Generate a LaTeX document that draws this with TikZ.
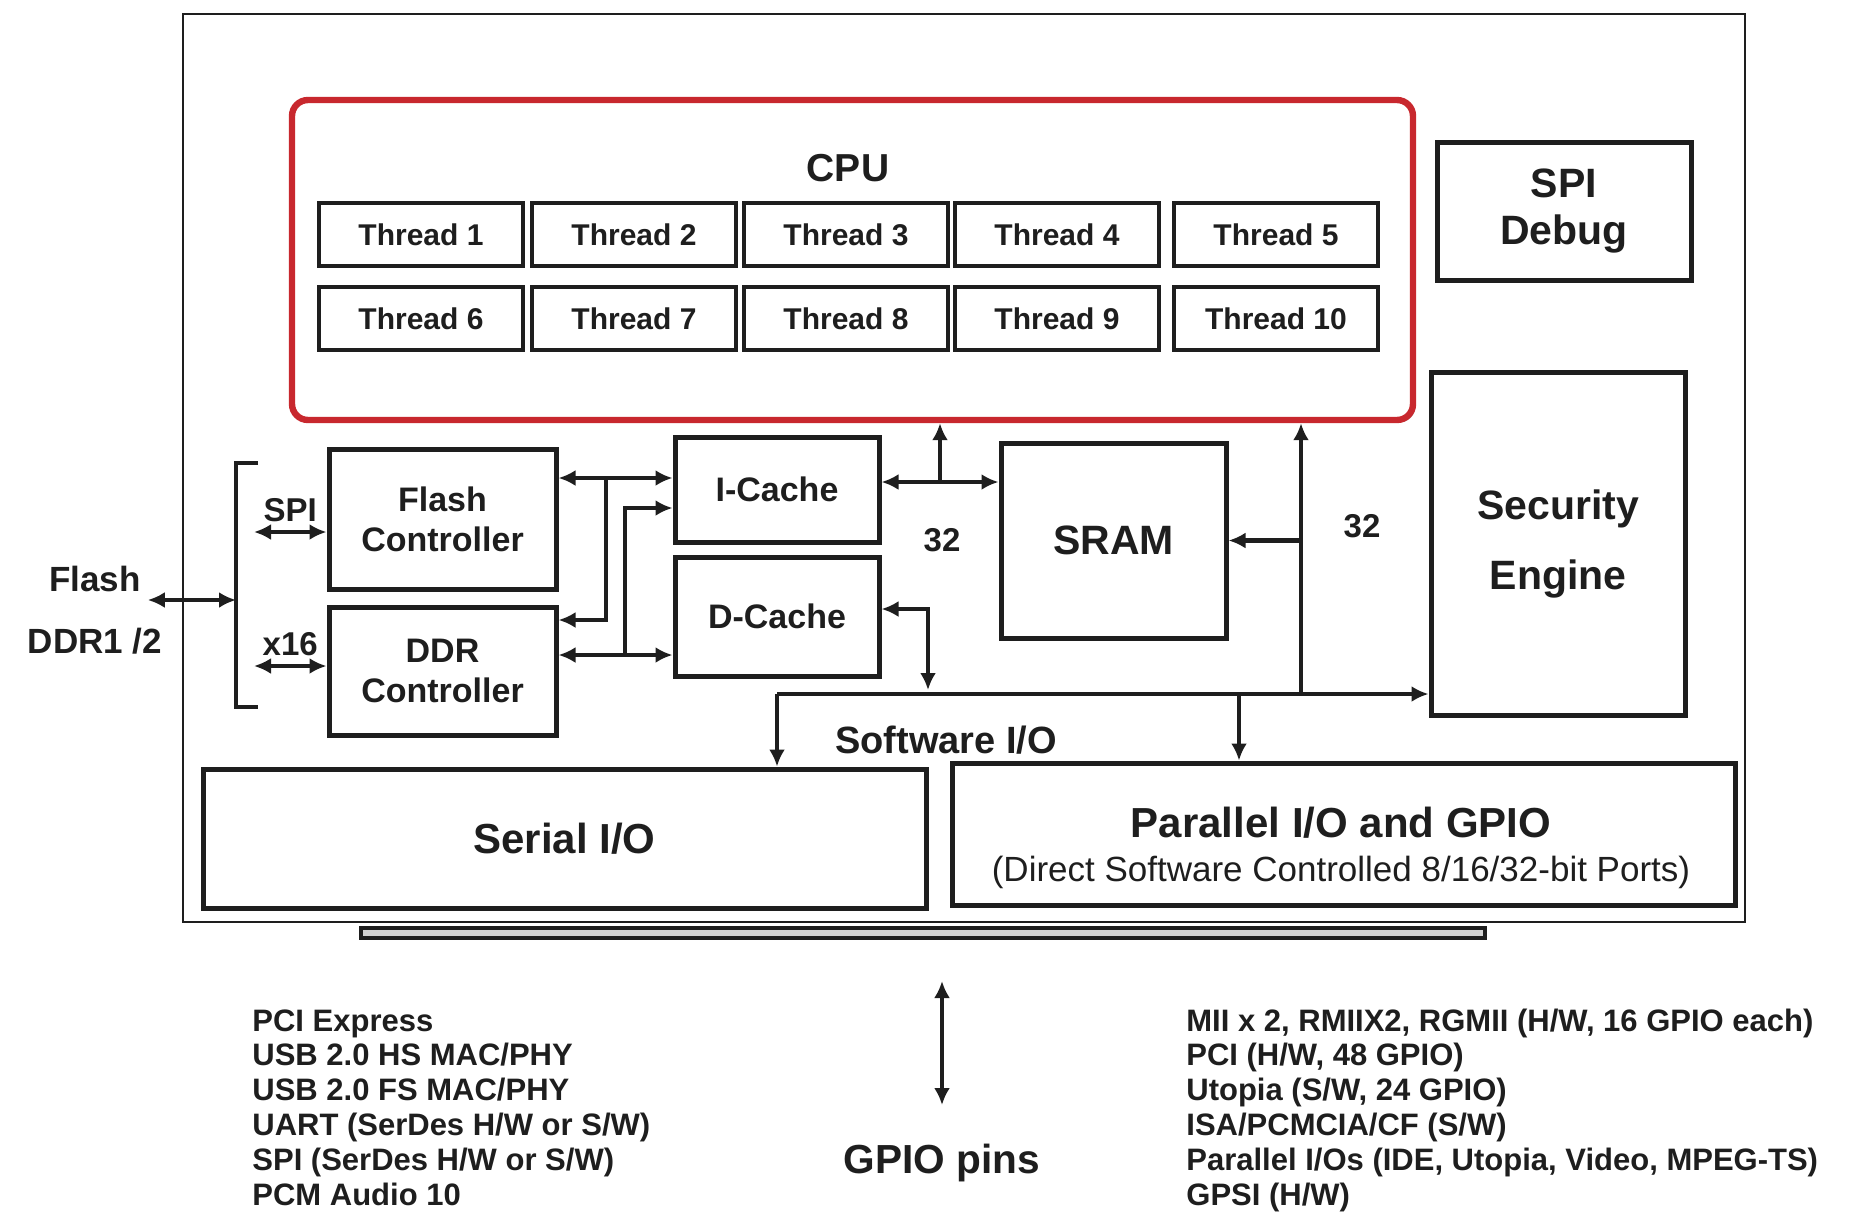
\documentclass[tikz,border=0pt]{standalone}
\usepackage{fontspec}
\setmainfont{Liberation Sans}
\usetikzlibrary{arrows.meta,calc,shadows}
\definecolor{ink}{HTML}{1E1E1E}
\definecolor{cpured}{HTML}{C8282E}

\begin{document}
\begin{tikzpicture}[
  x=.5pt,y=.5pt,font=\bfseries\fontsize{15.5}{17.4}\selectfont,text=ink,
  block/.style={draw=ink,line width=2.5pt,align=center,inner sep=0pt,
    font=\bfseries\fontsize{17}{20}\selectfont},
  bigblock/.style={block,font=\bfseries\fontsize{20.5}{23.5}\selectfont},
  thread/.style={draw=ink,line width=1.8pt,minimum width=102pt,minimum height=31.5pt,
    inner sep=0pt,font=\bfseries\fontsize{15}{18}\selectfont},
  link/.style={draw=ink,line width=2.3pt,>={Latex[length=8.5pt,width=8pt]}},
  tag/.style={inner sep=1pt,font=\bfseries\fontsize{16.5}{19}\selectfont},
  list/.style={anchor=base west,align=left,inner sep=0pt}
]
\path[use as bounding box] (0,0) rectangle (1854,-1211);

% chip outline and the ledge under it
\node[draw=ink,line width=1.1pt,minimum width=781pt,minimum height=454pt] (chip) at (964,-468) {};
\node[draw=ink,fill=ink!20,line width=2pt,minimum width=562pt,minimum height=5pt,inner sep=0pt] (ledge) at (923,-933) {};

% CPU with its ten threads
\node[draw=cpured,fill=white,line width=3.2pt,rounded corners=8pt,minimum width=560.5pt,
  minimum height=160pt,drop shadow={shadow xshift=1.2pt,shadow yshift=-1.2pt,fill=ink!70}]
  (cpu) at (852.5,-260) {};
\node[font=\bfseries\fontsize{19.5}{22}\selectfont] (cpulbl) at (848,-168) {CPU};
\foreach \x [count=\n] in {421,634,846,1057,1276} {
  \pgfmathtruncatemacro\m{\n+5}
  \node[thread] (t\n) at (\x,-234.5) {Thread \n};
  \node[thread] (t\m) at (\x,-318.5) {Thread \m};
}

\node[bigblock,minimum width=127pt,minimum height=69pt] (spidbg) at (1564,-211) {SPI\\Debug};
\node[bigblock,minimum width=127pt,minimum height=171.5pt,
  font=\bfseries\fontsize{20.5}{35}\selectfont] (secu) at (1558,-543.5) {Security\\Engine};

\node[block,minimum width=113.5pt,minimum height=70pt] (flashctl) at (442.5,-519) {Flash\\Controller};
\node[block,minimum width=113.5pt,minimum height=64pt] (ddrctl) at (442.5,-671) {DDR\\Controller};
\node[block,minimum width=102pt,minimum height=52.5pt] (icache) at (777,-489.5) {I-Cache};
\node[block,minimum width=102pt,minimum height=59.5pt] (dcache) at (777,-616.5) {D-Cache};
\node[bigblock,minimum width=112.5pt,minimum height=97.5pt] (sram) at (1113.5,-540.5) {SRAM};

\node[bigblock,minimum width=361.5pt,minimum height=69.5pt,
  font=\bfseries\fontsize{21}{24}\selectfont] (serio) at (564.5,-838.5) {Serial I/O};
\node[block,minimum width=391.5pt,minimum height=71pt] (pario) at (1343.5,-834) {};
\node[align=center,font=\bfseries\fontsize{21}{22}\selectfont] (parlbl) at (1341,-848)
  {Parallel I/O and GPIO\\{\mdseries\fontsize{17.5}{22}\selectfont (Direct Software Controlled 8/16/32-bit Ports)}};

% external memory side
\node[font=\bfseries\fontsize{17.5}{20}\selectfont] (flashlbl) at (95,-579) {Flash};
\node[font=\bfseries\fontsize{17.5}{20}\selectfont] (ddrlbl) at (95,-641) {DDR1 /2};
\coordinate (brk) at (236,-600);
\draw[link] (258,-463) -| (236,-707) -- (258,-707);
\draw[link,<->] (flashlbl.east |- brk) -- (brk);
\coordinate (spiend) at (254,-532);
\coordinate (x16end) at (254,-666);
\draw[link,<->] (spiend) -- (spiend -| flashctl.west) node[tag,midway,above=3pt] {SPI};
\draw[link,<->] (x16end) -- (x16end -| ddrctl.west) node[tag,midway,above=3pt] {x16};

% controllers to caches
\coordinate (fi) at (606,-478);
\coordinate (fd) at (606,-620);
\draw[link,<->] (flashctl.east |- fi) -- (icache.west |- fi);
\draw[link,->] (fi) -- (fd) -- (ddrctl.east |- fd);
\coordinate (dd) at (625,-655);
\coordinate (di) at (625,-508);
\draw[link,<->] (ddrctl.east |- dd) -- (dcache.west |- dd);
\draw[link,->] (dd) -- (di) -- (icache.west |- di);

% 32-bit paths
\coordinate (up32) at (940,-482);
\draw[link,<->] (icache.east |- up32) -- (sram.west |- up32);
\draw[link,->] (up32) -- (up32 |- cpu.south);
\node[tag] (w32a) at (942,-540) {32};
\coordinate (bus32) at (1301,-694);
\draw[link,->] (bus32) -- (bus32 |- cpu.south);
\draw[link,->] (bus32 |- sram.east) -- (sram.east);
\node[tag] (w32b) at (1362,-526) {32};

% software I/O bus
\coordinate (swbus) at (777,-694);
\draw[link,->] (swbus) -- (swbus -| secu.west);
\draw[link,->] (swbus) -- (swbus |- serio.north);
\coordinate (parfeed) at (1239,-694);
\draw[link,->] (parfeed) -- (parfeed |- pario.north);
\coordinate (dcfeed) at (928,-609);
\draw[link,<->,shorten >=2pt] (dcache.east |- dcfeed) -- (dcfeed) -- (dcfeed |- swbus);
\node[font=\bfseries\fontsize{19}{22}\selectfont] (swio) at (946,-740) {Software I/O};

% pins
\node[list] (serlist) at (252,-1205) {PCI Express\\USB 2.0 HS MAC/PHY\\USB 2.0 FS MAC/PHY\\
  UART (SerDes H/W or S/W)\\SPI (SerDes H/W or S/W)\\PCM Audio 10};
\node[list] (parlist) at (1186,-1205) {MII x 2, RMIIX2, RGMII (H/W, 16 GPIO each)\\
  PCI (H/W, 48 GPIO)\\Utopia (S/W, 24 GPIO)\\ISA/PCMCIA/CF (S/W)\\
  Parallel I/Os (IDE, Utopia, Video, MPEG-TS)\\GPSI (H/W)};
\node[font=\bfseries\fontsize{20.3}{24}\selectfont] (gpio) at (942,-1163) {GPIO pins};
\coordinate (gpiotop) at (942,-981);
\coordinate (gpiobot) at (942,-1105);
\draw[link,<->] (gpiotop) -- (gpiobot);
\end{tikzpicture}
\end{document}
